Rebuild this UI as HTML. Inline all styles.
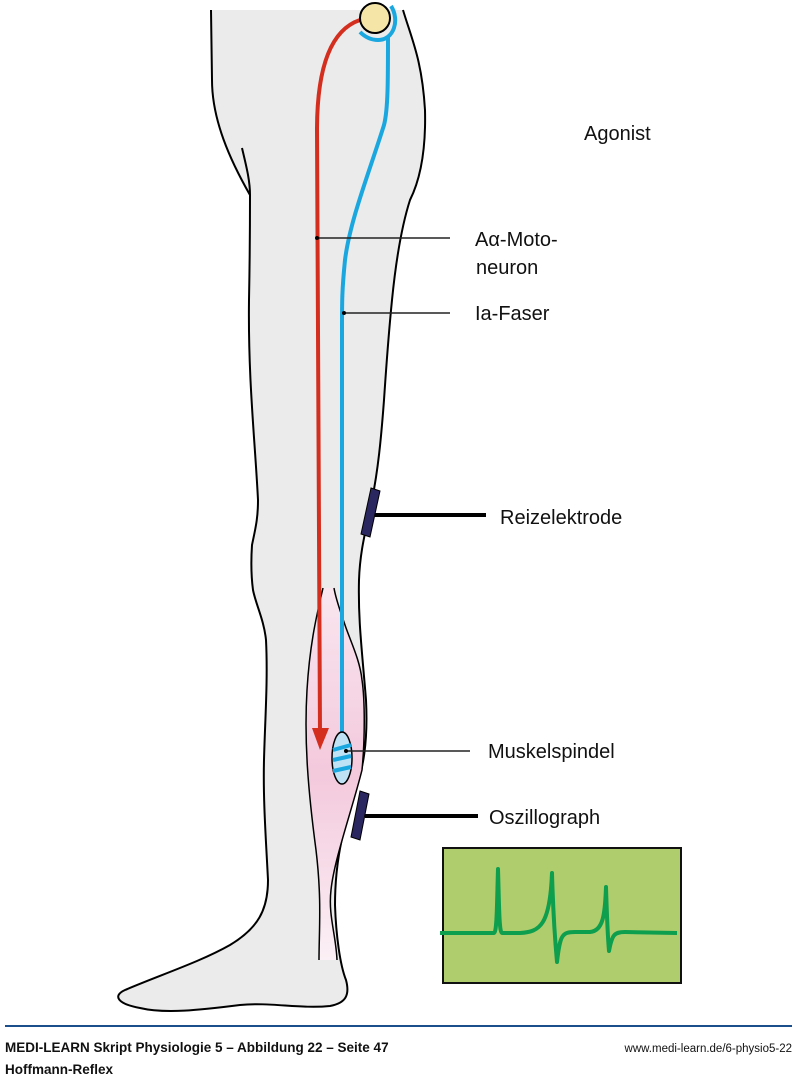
<!DOCTYPE html>
<html><head><meta charset="utf-8"><style>
body{margin:0;background:#fff;width:800px;height:1081px;overflow:hidden;font-family:"Liberation Sans",sans-serif}
svg{position:absolute;left:0;top:0}
.lbl{font-family:"Liberation Sans",sans-serif;font-size:20px;fill:#111}
</style></head><body>
<svg width="800" height="1081" viewBox="0 0 800 1081">
<defs><linearGradient id="pk" x1="0" y1="0" x2="0" y2="1"><stop offset="0" stop-color="#f9e6ef"/><stop offset="0.5" stop-color="#f3c9dc"/><stop offset="1" stop-color="#fbf0f5"/></linearGradient></defs>
<path d="M211,10 L403,10 C412,40 422,60 425,110 C426,150 420,180 410,200 C402,225 396,260 392,300 C388,340 386,370 384,400 C381,440 378,470 372,500 C366,530 360,550 359,580 C358,620 362,650 366,700 C368,740 364,770 352,800 C340,840 335,870 335,905 C336,935 340,965 346,980 C350,995 346,1003 330,1006 C300,1009 270,1002 240,1005 C200,1010 165,1014 140,1008 C118,1004 112,996 125,990 C160,975 200,962 230,945 C258,928 268,910 268,880 C266,840 263,800 264,760 C265,720 268,680 266,640 C264,620 256,605 253,590 C251,575 251,560 252,545 C255,530 258,520 258,500 C255,440 248,380 249,300 C250,250 250,220 250,195 C230,160 212,120 212,80 Z" fill="#ebebeb" stroke="none"/>
<path d="M403,10 C412,40 422,60 425,110 C426,150 420,180 410,200 C402,225 396,260 392,300 C388,340 386,370 384,400 C381,440 378,470 372,500 C366,530 360,550 359,580 C358,620 362,650 366,700 C368,740 364,770 352,800 C340,840 335,870 335,905 C336,935 340,965 346,980 C350,995 346,1003 330,1006 C300,1009 270,1002 240,1005 C200,1010 165,1014 140,1008 C118,1004 112,996 125,990 C160,975 200,962 230,945 C258,928 268,910 268,880 C266,840 263,800 264,760 C265,720 268,680 266,640 C264,620 256,605 253,590 C251,575 251,560 252,545 C255,530 258,520 258,500 C255,440 248,380 249,300 C250,250 250,220 250,195 C230,160 212,120 212,80 L211,10" fill="none" stroke="#000" stroke-width="2"/>
<path d="M242,148 C246,165 250,180 250,195" fill="none" stroke="#000" stroke-width="2"/>
<path d="M323,588 C318,610 310,640 307,690 C304,740 308,790 316,850 C322,900 319,930 319,960 L337,960 C336,935 328,915 331,890 C334,860 352,810 362,770 C365,740 365,700 362,680 C360,660 350,640 345,625 C340,610 336,600 334,588 Z" fill="url(#pk)" stroke="none"/>
<path d="M323,588 C318,610 310,640 307,690 C304,740 308,790 316,850 C322,900 319,930 319,960" fill="none" stroke="#000" stroke-width="1.5"/>
<path d="M334,588 C336,600 340,610 345,625 C350,640 360,660 362,680 C365,700 365,740 362,770 C352,810 334,860 331,890 C328,915 336,935 337,960" fill="none" stroke="#000" stroke-width="1.5"/>
<path d="M360,20 C330,30 317,70 317,130 L320,735" fill="none" stroke="#d42e1e" stroke-width="4"/>
<polygon points="312,728 329,728 320,750" fill="#d42e1e"/>
<path d="M388,36 C388,80 388,110 384,125 C370,170 350,220 345,260 C342,290 342,300 342,330 L342,735" fill="none" stroke="#1aa7e0" stroke-width="4"/>
<path d="M391,6 C400,20 394,40 378,40 C370,40 364,36 360,32" fill="none" stroke="#1aa7e0" stroke-width="4"/>
<circle cx="375" cy="18" r="15" fill="#f5e6a8" stroke="#000" stroke-width="2"/>
<ellipse cx="342" cy="758" rx="10" ry="26" fill="#bfe3f5" stroke="#000" stroke-width="1.5"/>
<path d="M333,750 L351,745 M333,760 L351,756 M333,771 L351,767" stroke="#1aa7e0" stroke-width="4"/>
<g stroke="#222" stroke-width="1.5"><line x1="317" y1="238" x2="450" y2="238"/><line x1="344" y1="313" x2="450" y2="313"/><line x1="346" y1="751" x2="470" y2="751"/></g>
<circle cx="317" cy="238" r="2" fill="#000"/><circle cx="344" cy="313" r="2" fill="#000"/><circle cx="346" cy="751" r="2" fill="#000"/>
<g stroke="#000" stroke-width="1"><polygon points="371,488 380,491 370,537 361,534" fill="#2a2660"/><polygon points="360,791 369,794 360,840 351,837" fill="#2a2660"/></g>
<line x1="375" y1="515" x2="486" y2="515" stroke="#000" stroke-width="4"/>
<line x1="365" y1="816" x2="478" y2="816" stroke="#000" stroke-width="4"/>
<rect x="443" y="848" width="238" height="135" fill="#b0cd6d" stroke="#111" stroke-width="2"/>
<path d="M440,933 L494,933 C497,933 497,900 498,869 C499,900 499,933 502,933 L520,933 C540,932 550,925 552,873 C553,910 555,940 557,962 C560,935 562,932 575,932 L590,932 C603,931 605,915 606,887 C607,920 608,940 609,951 C612,935 614,932 625,932 L677,933" fill="none" stroke="#0d9e4e" stroke-width="4" stroke-linejoin="round"/>
<text x="584" y="140" class="lbl">Agonist</text>
<text x="475" y="246" class="lbl">Aα-Moto-</text>
<text x="476" y="274" class="lbl">neuron</text>
<text x="475" y="320" class="lbl">Ia-Faser</text>
<text x="500" y="524" class="lbl">Reizelektrode</text>
<text x="488" y="758" class="lbl">Muskelspindel</text>
<text x="489" y="824" class="lbl">Oszillograph</text>
<line x1="5" y1="1026" x2="792" y2="1026" stroke="#1b4f8c" stroke-width="2"/>
<text x="5" y="1052" font-family="Liberation Sans" font-weight="bold" font-size="13.5" fill="#111">MEDI-LEARN Skript Physiologie 5 – Abbildung 22 – Seite 47</text>
<text x="792" y="1052" text-anchor="end" font-family="Liberation Sans" font-size="11.5" fill="#111">www.medi-learn.de/6-physio5-22</text>
<text x="5" y="1074" font-family="Liberation Sans" font-weight="bold" font-size="13.5" fill="#111">Hoffmann-Reflex</text>
</svg>
</body></html>
